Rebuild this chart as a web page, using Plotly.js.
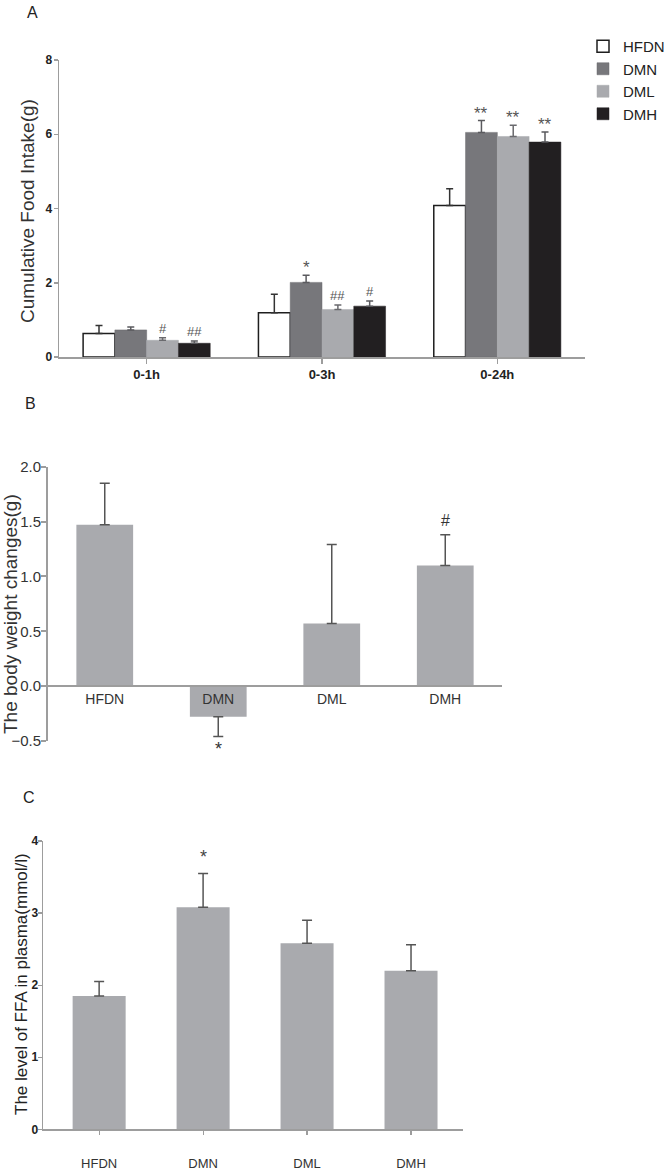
<!DOCTYPE html>
<html>
<head>
<meta charset="utf-8">
<script src="https://cdn.plot.ly/plotly-3.0.1.min.js"></script>
<style>html,body{margin:0;padding:0;background:#fff}#chart{width:672px;height:1170px}</style>
</head>
<body>
<div id="chart"></div>
<script>
// ---------- Panel A data ----------
const timeGroups = ['0-1h', '0-3h', '0-24h'];
const groupNames = ['HFDN', 'DMN', 'DML', 'DMH'];
const intakeHFDN = [0.63, 1.19, 4.08];
const intakeDMN  = [0.73, 2.01, 6.05];
const intakeDML  = [0.45, 1.28, 5.94];
const intakeDMH  = [0.37, 1.37, 5.79];
const intakeErrHFDN = [0.22, 0.50, 0.45];
const intakeErrDMN  = [0.08, 0.19, 0.32];
const intakeErrDML  = [0.07, 0.12, 0.30];
const intakeErrDMH  = [0.06, 0.14, 0.27];
const markHFDN = ['', '', ''];
const markDMN  = ['', '*', '**'];
const markDML  = ['#', '##', '**'];
const markDMH  = ['##', '#', '**'];
const intakeTicks = [0, 2, 4, 6, 8];

// ---------- Panel B data ----------
const bwGroups = ['HFDN', 'DMN', 'DML', 'DMH'];
const bwChange = [1.47, -0.28, 0.57, 1.10];
const bwErr    = [0.38, 0.18, 0.72, 0.28];
const bwMarks  = ['', '*', '', '#'];
const bwTicks  = [-0.5, 0, 0.5, 1.0, 1.5, 2.0];

// ---------- Panel C data ----------
const ffaGroups = ['HFDN', 'DMN', 'DML', 'DMH'];
const ffaLevel  = [1.85, 3.08, 2.58, 2.20];
const ffaErr    = [0.20, 0.47, 0.32, 0.36];
const ffaMarks  = ['', '*', '', ''];
const ffaTicks  = [0, 1, 2, 3, 4];

// ---------- layout helpers ----------
const W = 672, H = 1170;
const FONT = 'Liberation Sans, Arial, Helvetica, sans-serif';
const px = v => v / W;
const py = v => 1 - v / H;

const aSeries = [
  {name: 'HFDN', y: intakeHFDN, e: intakeErrHFDN, m: markHFDN, fill: '#ffffff', line: '#1e1e1e', lw: 1.5, ec: '#333333'},
  {name: 'DMN',  y: intakeDMN,  e: intakeErrDMN,  m: markDMN,  fill: '#77777b', line: '#6a6a6e', lw: 0.5, ec: '#5a5a5e'},
  {name: 'DML',  y: intakeDML,  e: intakeErrDML,  m: markDML,  fill: '#a9aaae', line: '#a9aaae', lw: 0.5, ec: '#6a6a6e'},
  {name: 'DMH',  y: intakeDMH,  e: intakeErrDMH,  m: markDMH,  fill: '#221f21', line: '#221f21', lw: 0.5, ec: '#5a5a5e'}
];

const BARGAP_A = 0.275;
const barW = (1 - BARGAP_A) / aSeries.length;

const traces = [];
const annotations = [];

aSeries.forEach((s, i) => {
  traces.push({
    type: 'bar', name: s.name, x: timeGroups, y: s.y,
    xaxis: 'x', yaxis: 'y',
    marker: {color: s.fill, line: {color: s.line, width: s.lw}},
    error_y: {type: 'data', symmetric: false, array: s.e, arrayminus: s.e.map(() => 0),
              color: s.ec, thickness: 1.5, width: 3.5},
    hoverinfo: 'skip'
  });
  const off = (i - (aSeries.length - 1) / 2) * barW;
  s.m.forEach((t, j) => {
    if (!t) return;
    const star = t.indexOf('*') >= 0;
    annotations.push({
      xref: 'x', yref: 'y', x: j + off, y: s.y[j] + s.e[j], text: t,
      showarrow: false, yanchor: 'bottom', yshift: star ? -4 : 0,
      font: {family: FONT, size: star ? 17 : 13, color: '#555'}
    });
  });
});

// Panel B
traces.push({
  type: 'bar', x: bwGroups, y: bwChange, xaxis: 'x2', yaxis: 'y2', width: 0.5,
  showlegend: false, marker: {color: '#a9aaae'},
  error_y: {type: 'data', symmetric: false,
            array: bwChange.map((v, i) => v >= 0 ? bwErr[i] : 0),
            arrayminus: bwChange.map((v, i) => v < 0 ? bwErr[i] : 0),
            color: '#555', thickness: 1.5, width: 5},
  hoverinfo: 'skip'
});
bwMarks.forEach((t, i) => {
  if (!t) return;
  const neg = bwChange[i] < 0;
  annotations.push({
    xref: 'x2', yref: 'y2', x: bwGroups[i],
    y: neg ? bwChange[i] - bwErr[i] : bwChange[i] + bwErr[i], text: t,
    showarrow: false, yanchor: neg ? 'top' : 'bottom', yshift: neg ? 0 : 4,
    font: {family: FONT, size: neg ? 18 : 16, color: '#333'}
  });
});

// Panel C
traces.push({
  type: 'bar', x: ffaGroups, y: ffaLevel, xaxis: 'x3', yaxis: 'y3', width: 0.51,
  showlegend: false, marker: {color: '#a9aaae'},
  error_y: {type: 'data', symmetric: false, array: ffaErr, arrayminus: ffaErr.map(() => 0),
            color: '#555', thickness: 1.5, width: 5},
  hoverinfo: 'skip'
});
ffaMarks.forEach((t, i) => {
  if (!t) return;
  annotations.push({
    xref: 'x3', yref: 'y3', x: ffaGroups[i], y: ffaLevel[i] + ffaErr[i], text: t,
    showarrow: false, yanchor: 'bottom', yshift: 4,
    font: {family: FONT, size: 18, color: '#444'}
  });
});

// Panel labels and axis titles
const txt = (x, y, text, size, angle, color) => ({
  xref: 'paper', yref: 'paper', x: px(x), y: py(y), text: text, showarrow: false,
  xanchor: 'center', yanchor: 'middle', textangle: angle || 0,
  font: {family: FONT, size: size, color: color || '#222'}
});
annotations.push(txt(32, 13, 'A', 16));
annotations.push(txt(30, 403, 'B', 16));
annotations.push(txt(29, 797, 'C', 16));
annotations.push(txt(27, 211, 'Cumulative Food Intake(g)', 19, -90, '#333'));
annotations.push(txt(10, 614, 'The body weight changes(g)', 19, -90, '#333'));
annotations.push(txt(21, 984, 'The level of FFA in plasma(mmol/l)', 17, -90, '#222'));

// Domains
const domAx = [px(59), px(585)], domAy = [py(357), py(60)];
const domBx = [px(48), px(502)], domBy = [py(741), py(466.7)];
const domCx = [px(43), px(463)], domCy = [py(1129.3), py(841)];
const rangeB = [-0.5, 2.0];
const zeroPosB = domBy[0] + (0 - rangeB[0]) / (rangeB[1] - rangeB[0]) * (domBy[1] - domBy[0]);

const axisGray = '#9d9d9d';

const layout = {
  width: W, height: H,
  margin: {l: 0, r: 0, t: 0, b: 0},
  paper_bgcolor: '#fff', plot_bgcolor: 'rgba(0,0,0,0)',
  font: {family: FONT, color: '#222'},
  barmode: 'group', bargap: BARGAP_A, bargroupgap: 0,
  showlegend: true,
  legend: {x: px(583), y: py(30), xanchor: 'left', yanchor: 'top',
           font: {family: FONT, size: 15, color: '#222'}, bgcolor: 'rgba(0,0,0,0)',
           tracegroupgap: 0, itemwidth: 30},
  xaxis: {domain: domAx, anchor: 'y', type: 'category', range: [-0.5, 2.5],
          showline: true, linecolor: axisGray, linewidth: 1.5, showgrid: false, zeroline: false,
          ticks: 'outside', ticklen: 5, tickcolor: axisGray, tickwidth: 1.5,
          tickfont: {family: FONT, size: 13, color: '#222', weight: 'bold'}},
  yaxis: {domain: domAy, anchor: 'x', range: [0, 8], tickvals: intakeTicks,
          showline: true, linecolor: axisGray, linewidth: 1.5, showgrid: false, zeroline: false,
          ticks: 'outside', ticklen: 4, tickcolor: axisGray, tickwidth: 1.5,
          ticklabelstandoff: -1,
          tickfont: {family: FONT, size: 12, color: '#222', weight: 'bold'}},
  xaxis2: {domain: domBx, anchor: 'free', position: zeroPosB, type: 'category', range: [-0.5, 3.5],
           showline: true, linecolor: axisGray, linewidth: 2, showgrid: false, zeroline: false,
           ticks: '', tickfont: {family: FONT, size: 14, color: '#333'}},
  yaxis2: {domain: domBy, anchor: 'x2', range: rangeB, tickvals: bwTicks,
           tickformat: '.1f',
           showline: true, linecolor: axisGray, linewidth: 2, showgrid: false, zeroline: false,
           ticks: 'outside', ticklen: 5, tickcolor: axisGray, tickwidth: 2,
           ticklabelstandoff: -3,
           tickfont: {family: FONT, size: 15, color: '#333'}},
  xaxis3: {domain: domCx, anchor: 'y3', type: 'category', range: [-0.54, 3.5],
           showline: true, linecolor: axisGray, linewidth: 1.5, showgrid: false, zeroline: false,
           ticks: 'outside', ticklen: 4, tickcolor: axisGray, tickwidth: 1.2,
           ticklabelstandoff: 18,
           tickfont: {family: FONT, size: 13, color: '#333'}},
  yaxis3: {domain: domCy, anchor: 'x3', range: [0, 4], tickvals: ffaTicks,
           showline: true, linecolor: axisGray, linewidth: 1.5, showgrid: false, zeroline: false,
           ticks: 'outside', ticklen: 4, tickcolor: axisGray, tickwidth: 1.2,
           ticklabelstandoff: -3,
           tickfont: {family: FONT, size: 12, color: '#222', weight: 'bold'}},
  annotations: annotations
};

Plotly.newPlot('chart', traces, layout, {staticPlot: true, displayModeBar: false});
</script>
</body>
</html>
